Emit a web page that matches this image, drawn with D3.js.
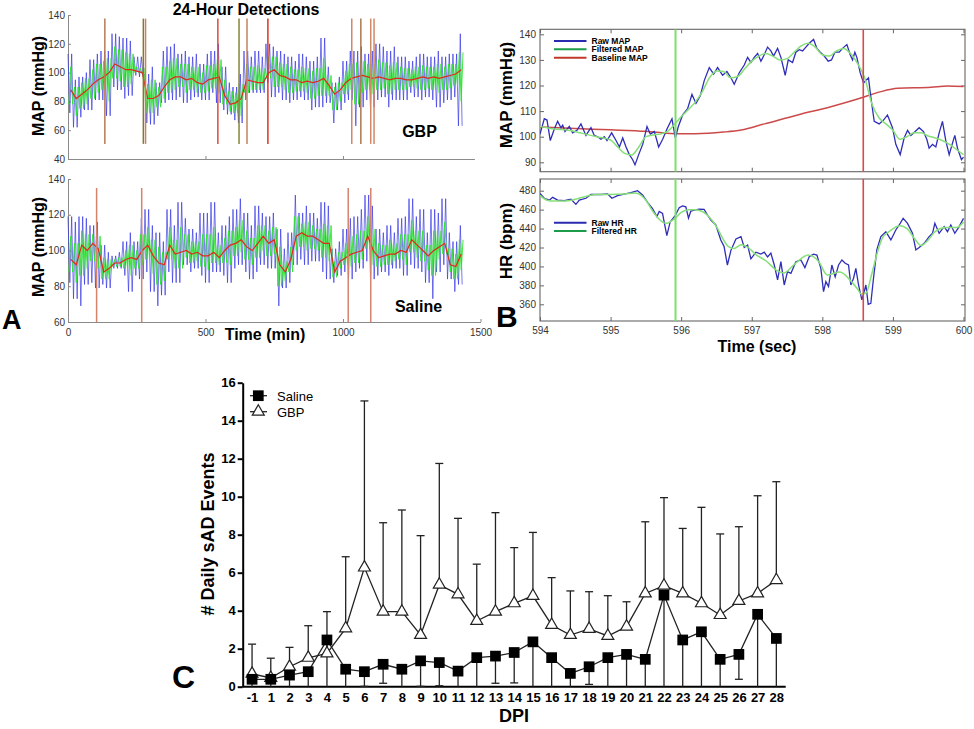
<!DOCTYPE html>
<html><head><meta charset="utf-8">
<script src="https://cdn.jsdelivr.net/npm/d3@7"></script>
<style>
body{margin:0;background:#fff;}
svg{display:block;font-family:"Liberation Sans",Arial,sans-serif;}
</style></head><body>
<svg id="c" width="974" height="729"></svg>
<script>
// ================= DATA =================
// Panel A: 24-hour MAP recordings, binned every 20 min (local peak / trough of raw & filtered trace, baseline trend)
const aBinMinutes = d3.range(0, 1440, 20);
const gbpRawHi  = [113,95,97,100,109,113,115,115,127,125,124,122,111,111,99,104,93,115,118,120,113,115,111,113,106,113,115,120,104,93,90,99,115,111,115,111,120,118,115,113,111,108,113,111,108,111,124,104,93,97,108,115,115,118,113,115,120,118,115,118,111,111,108,111,113,111,111,115,111,113,113,127];
const gbpRawLo  = [72,62,69,74,74,81,81,70,90,88,82,84,98,97,65,64,70,79,81,81,83,79,81,83,81,81,86,79,74,71,67,65,81,86,86,86,93,83,86,81,79,81,83,81,74,76,76,79,65,74,79,81,63,76,81,76,81,83,76,81,81,81,86,83,81,83,81,76,79,81,83,63];
const gbpFiltHi = [104,90,93,96,102,106,108,110,118,116,114,113,104,103,92,95,90,104,108,110,106,106,104,104,100,105,106,109,95,87,86,92,106,104,105,103,111,111,107,106,104,102,104,103,101,103,110,98,90,93,101,106,107,108,106,106,109,107,105,107,104,103,102,104,105,104,104,106,104,106,106,114];
const gbpFiltLo = [78,70,75,78,82,86,88,80,96,94,90,92,100,99,72,72,76,82,86,88,90,86,88,86,86,87,89,86,78,73,72,70,86,88,88,88,96,90,90,88,86,87,87,86,82,84,84,84,74,80,85,88,78,86,88,85,88,89,85,88,88,88,90,89,88,89,88,86,88,89,91,80];
const gbpTrend  = [88,82,85,88,92,95,97,100,106,104,102,102,101,100,82,82,84,90,95,97,97,95,96,93,92,95,96,97,84,78,79,82,95,94,93,93,100,102,98,97,95,95,93,94,93,94,96,91,85,88,93,96,97,98,97,96,97,96,95,96,96,95,95,96,97,96,97,96,97,98,99,102];
const gbpDetections = [134,274,282,545,622,651,727,1032,1065,1101,1113];

const salRawHi  = [119,116,119,118,114,116,103,99,97,99,105,110,105,118,123,114,110,105,123,114,127,118,112,110,121,121,127,110,114,119,123,129,121,114,125,121,119,121,112,101,110,131,121,125,121,118,127,125,101,105,112,118,119,123,131,125,112,110,114,110,118,119,129,119,123,110,123,121,129,110,105,114];
const salRawLo  = [82,73,69,81,82,79,81,79,90,90,86,77,86,84,88,77,69,75,88,82,82,92,88,90,86,82,88,88,86,82,90,92,88,84,88,92,90,90,69,79,82,92,95,92,94,94,88,84,82,86,88,84,88,90,94,84,86,88,86,90,90,86,92,90,88,82,73,88,92,84,77,81];
const salFiltHi = [108,104,111,109,109,108,96,95,95,96,100,103,100,109,113,106,102,99,113,106,113,109,105,105,109,109,113,103,107,111,113,117,111,107,114,114,111,113,102,94,102,119,115,116,114,112,115,114,94,99,104,108,109,111,119,112,104,103,106,104,109,109,117,111,111,103,111,111,116,101,98,106];
const salFiltLo = [88,82,86,90,94,90,84,84,91,91,90,86,90,92,95,87,81,83,95,90,90,96,93,94,91,89,93,92,93,92,97,99,95,92,96,100,97,98,80,83,88,100,102,100,101,100,96,94,85,90,92,91,93,95,101,92,91,92,92,94,95,92,99,96,94,89,86,95,98,88,84,89];
const salTrend  = [95,92,103,100,104,101,88,90,93,93,95,96,95,100,103,97,93,92,103,98,99,100,98,99,97,97,99,96,100,103,104,106,102,100,104,108,104,106,92,88,95,108,110,108,108,106,104,104,88,94,96,98,99,100,108,100,96,97,98,98,100,99,106,103,100,97,100,102,104,92,91,98];
const salDetections = [104,268,1019,1101];

// Panel B: single event, 594-600 s
const mapRawT = [594.000,594.061,594.099,594.146,594.203,594.250,594.297,594.321,594.354,594.415,594.462,594.524,594.580,594.651,594.722,594.769,594.817,594.864,594.911,594.949,595.015,595.077,595.125,595.172,595.219,595.266,595.313,595.346,595.398,595.455,595.516,595.563,595.620,595.681,595.738,595.799,595.870,595.917,595.960,596.021,596.092,596.153,596.210,596.271,596.328,596.398,596.460,596.516,596.587,596.648,596.705,596.752,596.823,596.894,596.941,596.988,597.035,597.083,597.130,597.177,597.224,597.271,597.309,597.366,597.413,597.474,597.517,597.578,597.625,597.673,597.720,597.767,597.814,597.876,597.923,597.970,598.027,598.083,598.130,598.178,598.239,598.286,598.348,598.395,598.428,598.461,598.489,598.536,598.584,598.617,598.654,598.687,598.735,598.805,598.867,598.923,598.994,599.041,599.103,599.159,599.207,599.254,599.315,599.372,599.433,599.480,599.513,599.561,599.608,599.655,599.702,599.749,599.797,599.844,599.877,599.915,599.971,600.000];
const mapRawV = [101,107,106.5,98.5,103,106,103.5,104.5,102,104,101.5,102.5,105,100.5,103.5,100.5,100,99,100,98.5,101.5,98.5,96,99.5,96,93,91,89,93,97,104,101,102,96,99,103,107,99.5,104,108.5,111,116.5,113,116,122,127,124.5,127,124,125.5,123,120.5,125,128,131,129,131,132.5,129.5,132,135,133.5,131.5,134.5,131,124,130,129,133,134,133.5,135,136.5,138,134.5,133,131.5,129.5,130,133,133,134.5,136,132,130,133,131,125,121,122,123,115.5,106,105,106.5,108.5,103.5,97,93,99.5,102.5,100.5,102,103.5,102,99,95.5,97,96,101.5,106,98.5,93,97.5,100.5,95.5,91,92];
const mapFiltT = [594.0,594.2,594.4,594.6,594.8,595.0,595.1,595.2,595.3,595.4,595.5,595.6,595.7,595.8,595.9,596.0,596.1,596.2,596.3,596.4,596.5,596.6,596.7,596.8,596.9,597.0,597.1,597.2,597.3,597.4,597.5,597.6,597.7,597.8,597.9,598.0,598.1,598.2,598.3,598.4,598.5,598.6,598.7,598.8,598.9,599.0,599.1,599.2,599.3,599.4,599.5,599.6,599.7,599.8,599.9,600.0];
const mapFiltV = [104,103,102.5,101.3,100,98.7,96,93.5,92.9,96,100,100.7,101,102,104.6,107.8,110.5,113.5,117.6,123,125.7,125.5,123,123.5,126.5,129.5,131.5,132.5,131.5,130,130.5,133,135.5,136.5,135,132,131.5,133.5,134.5,132.5,128.5,123,113,107.5,105,102.5,99,100,101.5,101.5,100.3,99.5,98.5,97,95,93];
const mapBaseT = [594.0,594.5,595.0,595.5,595.9,596.2,596.6,596.85,597.18,597.65,598.12,598.58,598.83,599.07,599.54,599.77,600.0];
const mapBaseV = [103.8,103.2,102.7,102.1,101.2,101.2,101.8,102.6,105,108.5,111.7,115.4,117.6,118.9,119.3,119.8,119.6];

const hrRawT = [594.000,594.061,594.132,594.179,594.250,594.344,594.439,594.509,594.557,594.651,594.722,594.864,594.958,595.019,595.099,595.193,595.288,595.382,595.453,595.524,595.594,595.656,595.689,595.736,595.759,595.797,595.844,595.915,595.972,596.019,596.066,596.104,596.137,596.184,596.255,596.325,596.373,596.420,596.491,596.561,596.608,596.655,596.705,596.776,596.847,596.894,596.941,596.988,597.059,597.130,597.177,597.224,597.271,597.319,597.366,597.413,597.460,597.507,597.555,597.625,597.696,597.753,597.814,597.876,597.923,597.979,598.017,598.050,598.088,598.135,598.182,598.230,598.277,598.324,598.371,598.404,598.442,598.475,598.513,598.560,598.593,598.617,598.650,598.687,598.725,598.772,598.829,598.900,598.971,599.041,599.089,599.145,599.207,599.277,599.325,599.372,599.443,599.513,599.561,599.594,599.655,599.726,599.773,599.820,599.877,599.938,600.000];
const hrRawV = [477,472,470,473,470,469.5,471,465.6,470,472,476,476,476.5,472,474.7,476.5,478,480,475.5,467.7,461,452.6,458,456,447,432.5,447,453.6,462,464,463,451,458.5,459.6,460.6,460.3,454.3,449,443.8,428,421,401.5,417,429,431.5,420,422.6,408,415,413,415,410,414,401.5,385.7,405,380.4,394.5,392.7,405,406.8,398.7,410.3,413,412,398,373.4,384,378.7,401.5,389,401.5,406.8,403.3,401.5,380.4,387.5,398,380.4,364.6,373.4,380.4,360,361,387.5,417.4,431.5,436.7,428,438.5,443.8,450.8,445.5,435,417.4,420,424.4,431.5,435,445.5,435,442,436.7,443.8,435,442,450.8];
const hrFiltT = [594.0,594.1,594.2,594.3,594.4,594.5,594.6,594.7,594.8,595.0,595.2,595.35,595.5,595.6,595.7,595.78,595.9,596.0,596.1,596.2,596.3,596.4,596.5,596.6,596.67,596.75,596.85,596.95,597.05,597.2,597.37,597.45,597.6,597.8,597.95,598.07,598.25,598.4,598.5,598.55,598.62,598.7,598.8,598.85,598.95,599.1,599.2,599.3,599.4,599.5,599.6,599.75,599.9,600.0];
const hrFiltV = [475,470,469,469,469.5,471,473,475,476,476,476.5,477.5,470,458,449,445.5,450,457,460,460,458,452,442,428,421,419,423,420,413,406,395,393,402,412,405,391,394,385,376,371,372,392,420,430,437,443,440,430,422,428,437,441,441,447];
const eventOnset = 595.92;
const eventEnd = 598.58;

// Panel C: daily sAD events
const dpi = ["-1","1","2","3","4","5","6","7","8","9","10","11","12","13","14","15","16","17","18","19","20","21","22","23","24","25","26","27","28"];
const saline    = [0.39,0.39,0.61,0.79,2.46,0.92,0.79,1.18,0.92,1.36,1.27,0.82,1.53,1.61,1.80,2.36,1.53,0.70,1.05,1.53,1.70,1.44,4.82,2.46,2.89,1.44,1.70,3.81,2.54];
const salineErr = [0.6,0.5,0.8,1.0,2.6,1.2,0.77,1.0,1.1,1.34,1.22,1.0,1.7,1.43,1.6,2.5,1.8,0.9,0.93,1.7,1.9,1.7,5.0,2.7,3.0,1.6,1.31,4.0,2.7];
const gbp       = [0.68,0.46,1.05,1.52,1.75,3.07,6.27,3.95,3.95,2.72,5.37,4.86,3.46,3.95,4.39,4.78,3.25,2.72,3.04,2.67,3.16,4.91,5.32,4.91,4.39,3.77,4.51,4.91,5.61];
const gbpErr    = [1.56,1.04,1.02,1.69,2.20,3.77,8.77,4.68,5.35,5.23,6.38,4.00,2.99,5.21,2.93,3.34,2.49,2.32,1.96,2.12,1.31,3.77,4.63,3.42,5.05,4.27,3.91,5.14,5.18];

// ================= STYLE =================
const gbpDetColors = ["#b87a52","#857735","#c4835e","#e04a3a","#87843a","#c4835e","#dd3322","#d0866a","#a8794f","#d08a64","#d0866a"];
const salDetColor = "#d6836c";

const svg = d3.select("#c");

function styleAxis(g, size, color, textColor) {
  g.selectAll(".domain").attr("stroke", color);
  g.selectAll(".tick line").attr("stroke", color);
  g.selectAll("text").attr("font-size", size).attr("fill", textColor)
    .attr("font-family", '"Liberation Sans", Arial, sans-serif');
}

// ================= PANEL A =================
// each 20-min bin is drawn as a dense oscillation between its read peak and trough
function oscillate(hi, lo, offset, phase) {
  return aBinMinutes.flatMap((t, i) => [0, 1, 2].map(k => {
    const j = 3 * i + k + phase;
    return [t + offset + k * 20 / 3, j % 2 === 0 ? hi[i] : lo[i]];
  }));
}
function panelA(cfg) {
  const g = svg.append("g");
  const {x, y, yTicks, xTicks, labels, hi, lo, fhi, flo, trend, det, detColor, detTop, detBot} = cfg;
  const gy = g.append("g").attr("transform", `translate(${x.range()[0]},0)`)
    .call(d3.axisLeft(y).tickValues(yTicks).tickSize(-3).tickSizeOuter(0).tickPadding(3).tickFormat(d3.format("d")));
  styleAxis(gy, 10, "#8a8a8a", "#333");
  const gx = g.append("g").attr("transform", `translate(0,${y.range()[0]})`)
    .call(d3.axisBottom(x).tickValues(xTicks).tickSize(-3).tickSizeOuter(0).tickPadding(7)
      .tickFormat(labels ? d3.format("d") : () => ""));
  styleAxis(gx, 10, "#8a8a8a", "#333");

  const line = d3.line().x(d => x(d[0])).y(d => y(d[1]));
  const tr = aBinMinutes.map((t, i) => [t + 10, trend[i]]);
  g.append("path").attr("d", line(oscillate(hi, lo, 0, 0))).attr("fill", "none").attr("stroke", "#2a2ae2").attr("stroke-width", 0.8).attr("opacity", 0.8);
  g.append("path").attr("d", line(oscillate(fhi, flo, 3.3, 1))).attr("fill", "none").attr("stroke", "#2ee62e").attr("stroke-width", 0.9);
  g.append("path").attr("d", line(tr)).attr("fill", "none").attr("stroke", "#e02a1a").attr("stroke-width", 1.2);

  g.selectAll(".det").data(det).join("line")
    .attr("x1", d => x(d)).attr("x2", d => x(d))
    .attr("y1", y(detTop)).attr("y2", y(detBot))
    .attr("stroke", (d, i) => Array.isArray(detColor) ? detColor[i] : detColor)
    .attr("stroke-width", 1.5);
}

panelA({
  x: d3.scaleLinear([0, 1478], [68, 474.4]),
  y: d3.scaleLinear([40, 140], [159, 15]),
  yTicks: [40, 60, 80, 100, 120, 140], xTicks: [0, 500, 1000], labels: false,
  hi: gbpRawHi, lo: gbpRawLo, fhi: gbpFiltHi, flo: gbpFiltLo, trend: gbpTrend,
  det: gbpDetections, detColor: gbpDetColors, detTop: 137.5, detBot: 50.5
});
panelA({
  x: d3.scaleLinear([0, 1500], [68, 480.5]),
  y: d3.scaleLinear([60, 140], [322, 179]),
  yTicks: [60, 80, 100, 120, 140], xTicks: [0, 500, 1000, 1500], labels: true,
  hi: salRawHi, lo: salRawLo, fhi: salFiltHi, flo: salFiltLo, trend: salTrend,
  det: salDetections, detColor: salDetColor, detTop: 135, detBot: 60
});

function txt(x, y, s, size, opts = {}) {
  const t = svg.append("text").attr("x", x).attr("y", y).text(s)
    .attr("font-size", size).attr("font-weight", opts.weight || "bold")
    .attr("text-anchor", opts.anchor || "middle").attr("fill", opts.fill || "#000");
  if (opts.rotate) t.attr("transform", `rotate(-90,${x},${y})`).attr("dominant-baseline", "central");
  return t;
}
txt(246, 15, "24-Hour Detections", 16);
txt(38.5, 86, "MAP (mmHg)", 16, {rotate: true});
txt(38.5, 247, "MAP (mmHg)", 16, {rotate: true});
txt(419.5, 137, "GBP", 16);
txt(418.5, 312, "Saline", 16);
txt(265, 340, "Time (min)", 16);
txt(2, 329, "A", 27, {anchor: "start"});

// ================= PANEL B =================
const xB = d3.scaleLinear([594, 600], [540, 963.5]);
const boxL = 540, boxR = 965;
function panelB(cfg) {
  const {y, top, bot, ticks, labels, series, id} = cfg;
  const g = svg.append("g");
  g.append("clipPath").attr("id", id).append("rect").attr("x", boxL).attr("y", top).attr("width", boxR - boxL).attr("height", bot - top);
  const ax = [
    g.append("g").attr("transform", `translate(${boxL},0)`).call(d3.axisLeft(y).tickValues(ticks).tickSize(-4).tickSizeOuter(0).tickPadding(4)),
    g.append("g").attr("transform", `translate(${boxR},0)`).call(d3.axisRight(y).tickValues(ticks).tickSize(-4).tickSizeOuter(0).tickFormat(() => "")),
    g.append("g").attr("transform", `translate(0,${top})`).call(d3.axisTop(xB).ticks(6).tickSize(-4).tickSizeOuter(0).tickFormat(() => "")),
    g.append("g").attr("transform", `translate(0,${bot})`).call(d3.axisBottom(xB).ticks(6).tickSize(-4).tickSizeOuter(0).tickPadding(6).tickFormat(labels ? d3.format("d") : () => ""))
  ];
  ax.forEach(a => { styleAxis(a, 10, "#666", "#333"); a.select(".domain").remove(); });
  g.append("rect").attr("x", boxL).attr("y", top).attr("width", boxR - boxL).attr("height", bot - top)
    .attr("fill", "none").attr("stroke", "#666").attr("stroke-width", 1.1);
  const pg = g.append("g").attr("clip-path", `url(#${id})`);
  series.forEach(s => {
    const pts = s.t.map((t, i) => [t, s.v[i]]);
    pg.append("path").attr("d", d3.line().x(d => xB(d[0])).y(d => y(d[1])).curve(s.curve || d3.curveLinear)(pts))
      .attr("fill", "none").attr("stroke", s.color).attr("stroke-width", s.w);
  });
  pg.append("line").attr("x1", xB(eventOnset)).attr("x2", xB(eventOnset)).attr("y1", top).attr("y2", bot)
    .attr("stroke", "#7ddf6a").attr("stroke-width", 2);
  pg.append("line").attr("x1", xB(eventEnd)).attr("x2", xB(eventEnd)).attr("y1", top).attr("y2", bot)
    .attr("stroke", "#dd4848").attr("stroke-width", 1.6);
  return g;
}
const yMap = d3.scaleLinear([90, 140], [162.3, 34.3]);
const yHr = d3.scaleLinear([360, 480], [304.3, 190.7]);
panelB({
  y: yMap, top: 29.3, bot: 171.7, ticks: [90, 100, 110, 120, 130, 140], labels: false, id: "clipMap",
  series: [
    {t: mapBaseT, v: mapBaseV, color: "#cc4a4a", w: 1.5, curve: d3.curveMonotoneX},
    {t: mapRawT, v: mapRawV, color: "#2e2eb8", w: 1.3},
    {t: mapFiltT, v: mapFiltV, color: "#86df78", w: 1.5, curve: d3.curveMonotoneX}
  ]
});
panelB({
  y: yHr, top: 179, bot: 321, ticks: [360, 380, 400, 420, 440, 460, 480], labels: true, id: "clipHr",
  series: [
    {t: hrRawT, v: hrRawV, color: "#2e2eb8", w: 1.3},
    {t: hrFiltT, v: hrFiltV, color: "#86df78", w: 1.5, curve: d3.curveMonotoneX}
  ]
});
// legends in B
function legB(y, label, color) {
  svg.append("line").attr("x1", 554).attr("x2", 586.5).attr("y1", y).attr("y2", y).attr("stroke", color).attr("stroke-width", 2);
  txt(591.5, y + 3, label, 8.5, {anchor: "start"});
}
legB(41, "Raw MAP", "#2a2ab0");
legB(49.3, "Filtered MAP", "#1c9c48");
legB(57.7, "Baseline MAP", "#c0392b");
legB(222.7, "Raw HR", "#2a2ab0");
legB(231, "Filtered HR", "#1c9c48");
txt(506.5, 95, "MAP (mmHg)", 17, {rotate: true});
txt(506, 241, "HR (bpm)", 17, {rotate: true});
txt(757, 352, "Time (sec)", 16);
txt(496, 327, "B", 30, {anchor: "start"});

// ================= PANEL C =================
const xC = d3.scalePoint().domain(dpi).range([242.7, 785.7]).padding(0.5);
const yC = d3.scaleLinear([0, 16], [686.7, 382.7]);
const gC = svg.append("g");
const gyC = gC.append("g").attr("transform", "translate(242.7,0)")
  .call(d3.axisLeft(yC).tickValues(d3.range(0, 17, 2)).tickSize(5).tickSizeOuter(0).tickPadding(2));
const gxC = gC.append("g").attr("transform", "translate(0,686.7)")
  .call(d3.axisBottom(xC).tickSize(0).tickSizeOuter(0).tickPadding(6.5));
[gyC, gxC].forEach(a => {
  a.selectAll(".domain, .tick line").attr("stroke", "#000").attr("stroke-width", 2);
  a.selectAll("text").attr("font-size", 13).attr("font-weight", "bold").attr("fill", "#000")
    .attr("font-family", '"Liberation Sans", Arial, sans-serif');
});
gxC.select(".domain").attr("d", "M242.7,0H785.7");

const capW = 4;
const eb = gC.append("g").attr("stroke", "#222").attr("stroke-width", 1.3);
// GBP error bars (upward)
dpi.forEach((d, i) => {
  const xx = xC(d), top = gbp[i] + gbpErr[i];
  eb.append("line").attr("x1", xx).attr("x2", xx).attr("y1", yC(gbp[i])).attr("y2", yC(top));
  eb.append("line").attr("x1", xx - capW).attr("x2", xx + capW).attr("y1", yC(top)).attr("y2", yC(top));
});
// Saline error bars (downward)
dpi.forEach((d, i) => {
  const xx = xC(d), low = saline[i] - salineErr[i];
  eb.append("line").attr("x1", xx).attr("x2", xx).attr("y1", yC(saline[i])).attr("y2", yC(Math.max(0, low)));
  if (low > 0) eb.append("line").attr("x1", xx - capW).attr("x2", xx + capW).attr("y1", yC(low)).attr("y2", yC(low));
});
const lineC = d3.line().x((d, i) => xC(dpi[i])).y(d => yC(d));
gC.append("path").attr("d", lineC(gbp)).attr("fill", "none").attr("stroke", "#222").attr("stroke-width", 1.3);
gC.append("path").attr("d", lineC(saline)).attr("fill", "none").attr("stroke", "#222").attr("stroke-width", 1.3);
const tri = d3.symbol(d3.symbolTriangle, 62);
const sq = d3.symbol(d3.symbolSquare, 115);
gC.selectAll(".tri").data(gbp).join("path")
  .attr("d", tri).attr("transform", (d, i) => `translate(${xC(dpi[i])},${yC(d)})`)
  .attr("fill", "#fff").attr("stroke", "#222").attr("stroke-width", 1.2);
gC.selectAll(".sq").data(saline).join("path")
  .attr("d", sq).attr("transform", (d, i) => `translate(${xC(dpi[i])},${yC(d)})`)
  .attr("fill", "#000");
// legend
gC.append("line").attr("x1", 250).attr("x2", 267).attr("y1", 395.7).attr("y2", 395.7).attr("stroke", "#222").attr("stroke-width", 1.3);
gC.append("path").attr("d", sq).attr("transform", "translate(258.3,395.7)").attr("fill", "#000");
gC.append("line").attr("x1", 250).attr("x2", 267).attr("y1", 411.7).attr("y2", 411.7).attr("stroke", "#222").attr("stroke-width", 1.3);
gC.append("path").attr("d", tri).attr("transform", "translate(258.3,411.7)").attr("fill", "#fff").attr("stroke", "#222").attr("stroke-width", 1.2);
txt(277, 400.5, "Saline", 13, {anchor: "start", weight: "normal"});
txt(277, 416.5, "GBP", 13, {anchor: "start", weight: "normal"});
txt(208, 534, "# Daily sAD Events", 18, {rotate: true});
txt(514, 722, "DPI", 18);
txt(172, 688, "C", 32, {anchor: "start"});
</script>
</body></html>
